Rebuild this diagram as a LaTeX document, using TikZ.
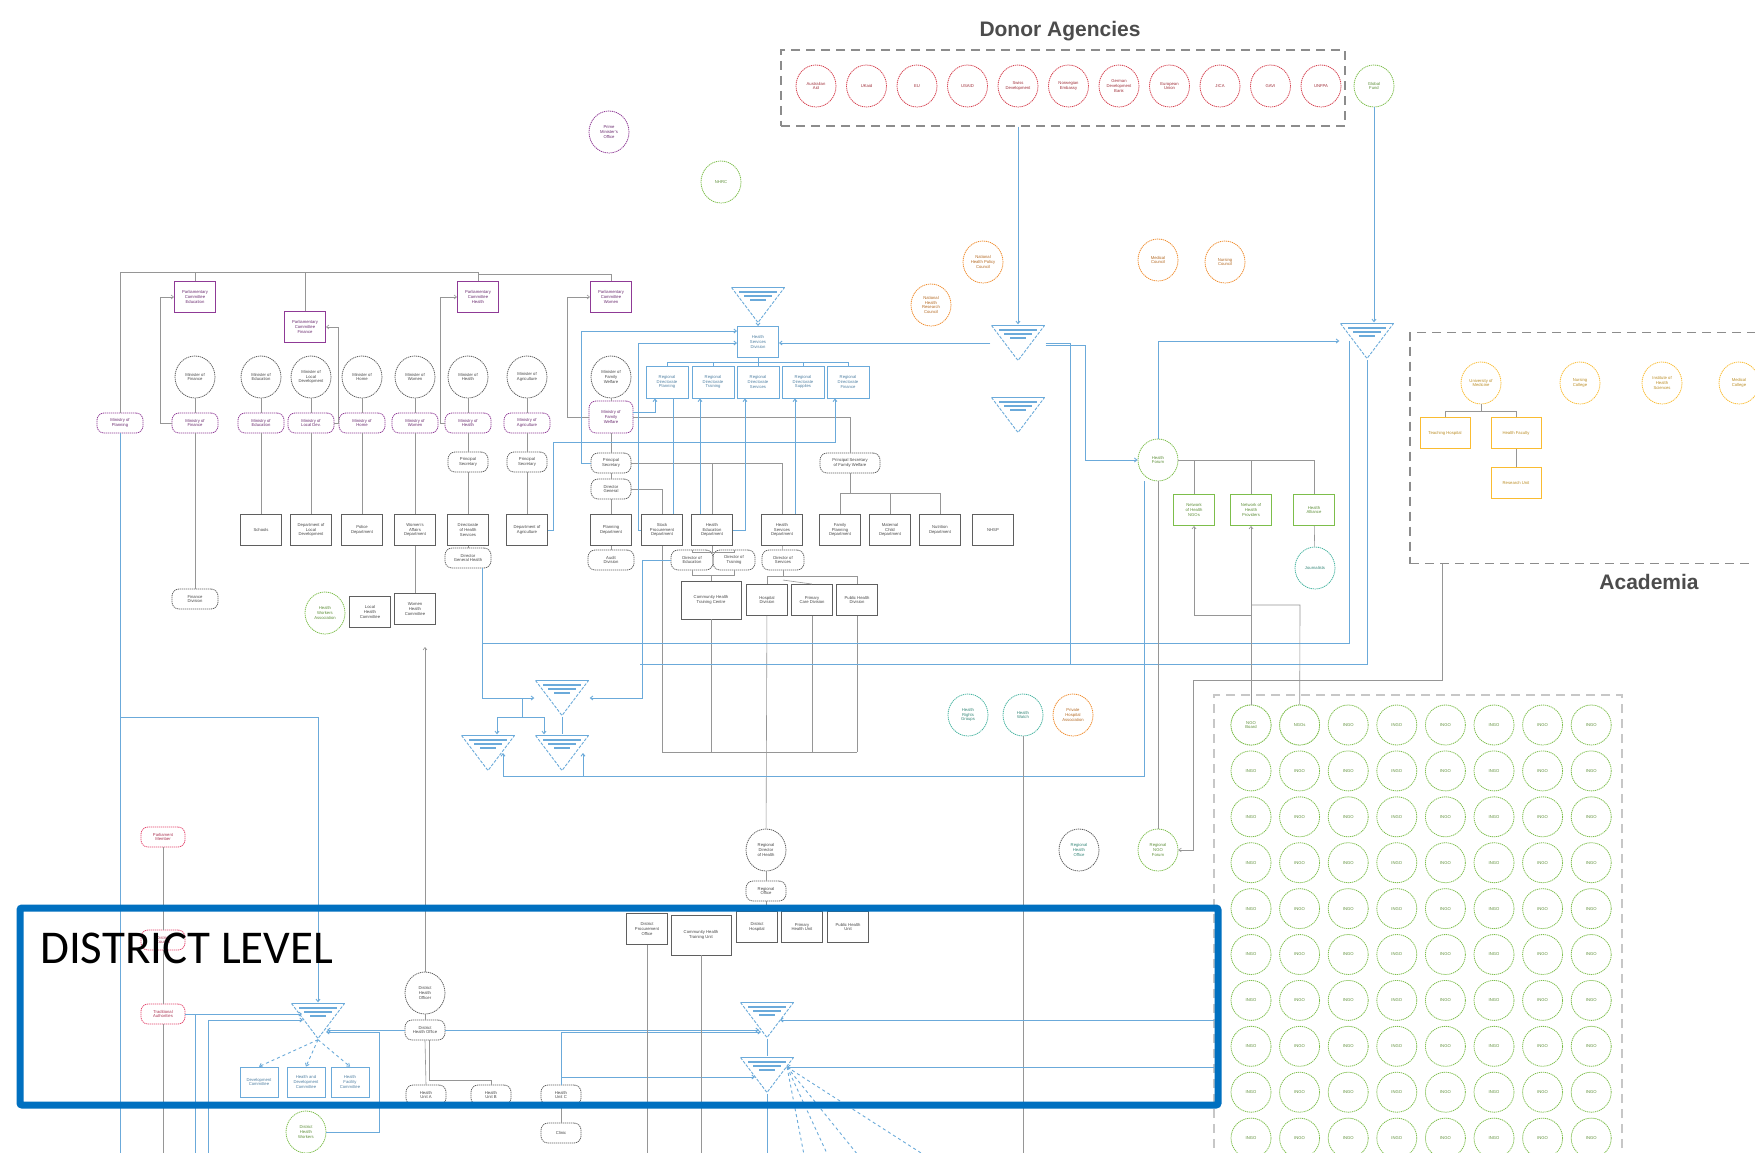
\documentclass[tikz,border=0pt]{standalone}
\usepackage{fontspec}
\setmainfont{Liberation Sans}
\newfontfamily\dlfont{Carlito}
\usetikzlibrary{positioning, arrows.meta, shapes.geometric}

\definecolor{lnblue}{RGB}{107,170,218}
\definecolor{dblue}{RGB}{0,112,192}
\definecolor{dred}{RGB}{214,64,78}
\definecolor{dpurple}{RGB}{143,58,150}
\definecolor{dgreen}{RGB}{125,190,75}
\definecolor{dorange}{RGB}{240,140,45}
\definecolor{dyellow}{RGB}{250,188,50}
\definecolor{dteal}{RGB}{70,180,160}
\definecolor{dpink}{RGB}{228,70,110}
\definecolor{lngray}{RGB}{150,150,150}
\definecolor{dgray}{RGB}{95,95,95}

\begin{document}
\begin{tikzpicture}[x=1pt,y=-1pt,>={Straight Barb[length=2.5pt,width=4pt]},
  lbl/.style={font=\fontsize{4.2}{4.8}\selectfont, align=center},
  dcirc/.style={ellipse, draw=#1, text=#1!75!black, dash pattern=on 1.2pt off 0.8pt,
        line width=0.8pt, minimum width=40pt, minimum height=42pt, inner sep=0pt, lbl},
  rnd/.style={rectangle, rounded corners=7pt, draw=#1, text=#1!75!black, dash pattern=on 1.2pt off 0.8pt,
        line width=0.8pt, minimum width=46pt, minimum height=20pt, inner sep=1pt, lbl},
  cbox/.style={rectangle, draw=#1, text=#1!75!black, line width=0.9pt, minimum width=41pt,
        minimum height=31pt, inner sep=1pt, lbl},
  grp/.style={draw=black!45, line width=1.3pt, dash pattern=on 9pt off 6pt, inner sep=0pt},
  heading/.style={font=\bfseries\fontsize{21}{21}\selectfont, text=black!70},
  funnel/.style={rectangle, minimum width=55pt, minimum height=37pt, inner sep=0pt,
    path picture={
      \draw[lnblue, line width=0.9pt, dash pattern=on 3pt off 1.5pt]
        ([shift={(1pt,-1pt)}]path picture bounding box.north west)
        -- ([yshift=1pt]path picture bounding box.south)
        -- ([shift={(-1pt,-1pt)}]path picture bounding box.north east);
      \draw[lnblue, line width=1pt]
        ([shift={(1pt,-1pt)}]path picture bounding box.north west)
        -- ([shift={(-1pt,-1pt)}]path picture bounding box.north east);
      \foreach \hw/\dd in {19/5,14/9,8/13}
        \draw[lnblue, line width=2pt]
          ([xshift=-\hw pt,yshift=-\dd pt]path picture bounding box.north)
          -- ([xshift=\hw pt,yshift=-\dd pt]path picture bounding box.north);
    }},
  bl/.style={draw=lnblue, line width=0.9pt},
  gl/.style={draw=lngray, line width=0.6pt}]

\useasboundingbox (0,0) rectangle (1755,1153);
\clip (0,0) rectangle (1755,1153);
\fill[white] (0,0) rectangle (1755,1153);

% donors
\node[heading] (donhead) at (1060,31) {Donor Agencies};
\node[grp, minimum width=564pt, minimum height=76pt] (donbox) at (1063,88) {};
\foreach \i/\t in {0/{Australian\\Aid},1/{UKaid},2/{EU},3/{USAID},4/{Swiss\\Development},
    5/{Norwegian\\Embassy},6/{German\\Development\\Bank},7/{European\\Union},8/{JICA},9/{GAVI},10/{UNFPA}}
  \node[dcirc=dred] (don\i) at (816+50.5*\i,86) {\t};
\node[dcirc=dgreen] (gfund) at (1374,86) {Global\\Fund};

\node[dcirc=dpurple] (pcirc) at (609,132) {Prime\\Minister's\\Office};
\node[dcirc=dgreen] (gcirc) at (721,182) {NHRC};
\node[dcirc=dorange] (o1) at (983,262) {National\\Health Policy\\Council};
\node[dcirc=dorange] (o2) at (931,305) {National\\Health\\Research\\Council};
\node[dcirc=dorange] (o3) at (1158,260) {Medical\\Council};
\node[dcirc=dorange] (o4) at (1225,262) {Nursing\\Council};

% funnels
\node[funnel] (F1) at (758,305) {};
\node[funnel] (F2) at (1018,343) {};
\node[funnel] (F3) at (1018,415) {};
\node[funnel] (F4) at (1367,341) {};
\node[funnel] (F5) at (562,698) {};
\node[funnel] (F6) at (488,753) {};
\node[funnel] (F7) at (562,753) {};
\node[funnel] (F8) at (318,1021) {};
\node[funnel] (F9) at (767,1020) {};
\node[funnel] (F10) at (767,1075) {};

% academia
\node[grp, minimum width=380pt, minimum height=231pt] (acabox) at (1600,448) {};
\node[heading] (acahead) at (1649,582) {Academia};
\node[dcirc=dyellow] (y1) at (1481,383) {University of\\Medicine};
\node[dcirc=dyellow] (y2) at (1580,383) {Nursing\\College};
\node[dcirc=dyellow] (y3) at (1662,383) {Institute of\\Health\\Sciences};
\node[dcirc=dyellow] (y4) at (1739,383) {Medical\\College};
\node[cbox=dyellow, minimum width=50pt] (ya) at (1445,433) {Teaching Hospital};
\node[cbox=dyellow, minimum width=50pt] (yb) at (1516,433) {Health Faculty};
\node[cbox=dyellow, minimum width=50pt] (yc) at (1516,483) {Research Unit};

% ngo grid
\node[grp, draw=black!22, line width=2pt, minimum width=408pt, minimum height=480pt] (ngobox) at (1418,935) {};
\foreach \r in {0,...,9}
  \foreach \c in {0,...,7}
    \node[dcirc=dgreen, minimum height=40pt] (ngo\r\c) at (1251+48.6*\c,725+45.9*\r) {INGO};
\node[dcirc=dgreen, minimum height=40pt, fill=white] at (ngo00) {NGO\\Board};
\node[dcirc=dgreen, minimum height=40pt, fill=white] at (ngo01) {NGOs};

% civil society
\node[dcirc=dgreen] (gov) at (1158,460) {Health\\Forum};
\node[cbox=dgreen] (gb1) at (1194,510) {Network\\of Health\\NGOs};
\node[cbox=dgreen] (gb2) at (1251,510) {Network of\\Health\\Providers};
\node[cbox=dgreen] (gb3) at (1314,510) {Health\\Alliance};
\node[dcirc=dteal] (tc) at (1315,568) {Journalists};
\node[dcirc=dteal] (m1) at (968,715) {Health\\Rights\\Groups};
\node[dcirc=dteal] (m2) at (1023,715) {Health\\Watch};
\node[dcirc=dorange] (m3) at (1073,715) {Private\\Hospital\\Association};
\node[dcirc=dgray] (rc) at (766,850) {Regional\\Director\\of Health};
\node[rnd=dgray, minimum width=40pt] (rr) at (766,891) {Regional\\Office};
\node[dcirc=dteal, draw=dgray] (rg) at (1079,850) {Regional\\Health\\Office};
\node[dcirc=dgreen] (gr2) at (1158,850) {Regional\\NGO\\Forum};

% ministries
\node[cbox=dpurple] (pc1) at (195,297) {Parliamentary\\Committee\\Education};
\node[cbox=dpurple] (pc2) at (305,327) {Parliamentary\\Committee\\Finance};
\node[cbox=dpurple] (pc3) at (478,297) {Parliamentary\\Committee\\Health};
\node[cbox=dpurple] (pc4) at (611,297) {Parliamentary\\Committee\\Women};
\foreach \i/\xx/\t in {1/195/{Minister of\\Finance},2/261/{Minister of\\Education},
    3/311/{Minister of\\Local\\Development},4/362/{Minister of\\Home},5/415/{Minister of\\Women},
    6/468/{Minister of\\Health},7/527/{Minister of\\Agriculture},8/611/{Minister of\\Family\\Welfare}}
  \node[dcirc=dgray] (mc\i) at (\xx,377) {\t};
\node[rnd=dpurple] (mn0) at (120,423) {Ministry of\\Planning};
\foreach \i/\xx/\t in {1/195/Finance,2/261/Education,3/311/Local Dev.,4/362/Home,
    5/415/Women,6/468/Health,7/527/Agriculture}
  \node[rnd=dpurple] (mn\i) at (\xx,423) {Ministry of\\\t};
\node[rnd=dpurple, minimum height=32pt, minimum width=44pt] (mn8) at (611,417) {Ministry of\\Family\\Welfare};

\node[rnd=dgray, minimum width=40pt] (sr6) at (468,462) {Principal\\Secretary};
\node[rnd=dgray, minimum width=40pt] (sr7) at (527,462) {Principal\\Secretary};
\node[rnd=dgray, minimum width=40pt] (sr8) at (611,463) {Principal\\Secretary};
\node[rnd=dgray, minimum width=40pt] (sr8b) at (611,489) {Director\\General};
\node[rnd=dgray, minimum width=60pt] (pr) at (850,463) {Principal Secretary\\of Family Welfare};

\foreach \n/\xx/\t in {2/261/{Schools},3/311/{Department of\\Local\\Development},4/362/{Police\\Department},
    5/415/{Women's\\Affairs\\Department},6/468/{Directorate\\of Health\\Services},7/527/{Department of\\Agriculture},
    8/611/{Planning\\Department},9/662/{Stock\\Procurement\\Department},10/712/{Health\\Education\\Department},
    11/782/{Health\\Services\\Department},12/840/{Family\\Planning\\Department},13/890/{Maternal\\Child\\Department},
    14/940/{Nutrition\\Department},15/993/{NHSP}}
  \node[cbox=dgray] (bx\n) at (\xx,530) {\t};

\node[rnd=dgray] (lr1) at (195,599) {Finance\\Division};
\node[rnd=dgray] (lr6) at (468,558) {Director\\General Health};
\node[rnd=dgray] (lr8) at (611,560) {Audit\\Division};
\node[rnd=dgray, minimum width=42pt] (lr10a) at (692,560) {Director of\\Education};
\node[rnd=dgray, minimum width=42pt] (lr10b) at (734,560) {Director of\\Training};
\node[rnd=dgray, minimum width=42pt] (lr11) at (783,560) {Director of\\Services};
\node[cbox=dgray, minimum width=60pt, minimum height=38pt] (w2a) at (711,600) {Community Health\\Training Centre};
\node[cbox=dgray] (w2b) at (767,600) {Hospital\\Division};
\node[cbox=dgray] (w2c) at (812,600) {Primary\\Care Division};
\node[cbox=dgray] (w2d) at (857,600) {Public Health\\Division};
\node[dcirc=dgreen] (gl) at (325,613) {Health\\Workers\\Association};
\node[cbox=dgray] (lb1) at (370,612) {Local\\Health\\Committee};
\node[cbox=dgray] (lb2) at (415,609) {Women\\Health\\Committee};

\node[cbox=lnblue] (tb) at (758,342) {Health\\Services\\Division};
\foreach \i/\xx/\t in {1/667/Planning,2/713/Training,3/758/Services,4/803/Supplies,5/848/Finance}
  \node[cbox=lnblue, minimum width=42pt, minimum height=32pt] (bb\i) at (\xx,382) {Regional\\Directorate\\\t};

% district
\node[rnd=dpink, minimum width=44pt] (p1) at (163,837) {Parliament\\Member};
\node[rnd=dpink, minimum width=44pt] (p2) at (163,940) {District\\Council};
\node[rnd=dpink, minimum width=44pt] (p3) at (163,1014) {Traditional\\Authorities};
\node[cbox=dgray] (d1) at (647,929) {District\\Procurement\\Office};
\node[cbox=dgray, minimum width=60pt, minimum height=40pt] (d2) at (701,935) {Community Health\\Training Unit};
\node[cbox=dgray] (d3) at (757,927) {District\\Hospital};
\node[cbox=dgray] (d4) at (802,927) {Primary\\Health Unit};
\node[cbox=dgray] (d5) at (848,927) {Public Health\\Unit};
\node[dcirc=dgray] (dc) at (425,993) {District\\Health\\Officer};
\node[rnd=dgray, minimum width=40pt] (dr) at (425,1030) {District\\Health Office};
\node[cbox=lnblue, minimum width=38pt, minimum height=30pt] (db1) at (259,1082) {Development\\Committee};
\node[cbox=lnblue, minimum width=38pt, minimum height=30pt] (db2) at (306,1082) {Health and\\Development\\Committee};
\node[cbox=lnblue, minimum width=38pt, minimum height=30pt] (db3) at (350,1082) {Health\\Facility\\Committee};
\node[rnd=dgray, minimum width=40pt] (dr1) at (426,1095) {Health\\Unit A};
\node[rnd=dgray, minimum width=40pt] (dr2) at (491,1095) {Health\\Unit B};
\node[rnd=dgray, minimum width=40pt] (dr3) at (561,1095) {Health\\Unit C};
\node[rnd=dgray, minimum width=40pt] (dr4) at (561,1133) {Clinic};
\node[dcirc=dgreen] (dg) at (306,1132) {District\\Health\\Workers};

% free ends and bends
\coordinate (busw) at (120,272);
\coordinate (bot0) at (120,1160);
\coordinate (h717) at (120,717);
\coordinate (bb5j) at (835,442);
\coordinate (h643) at (482,643);
\coordinate (h664) at (640,664);
\coordinate (j1070) at (1070,664);
\coordinate (h776) at (503,776);
\coordinate (h776b) at (583,776);
\coordinate (fj) at (522,717);
\coordinate (g605) at (1300,605);
\coordinate (g615) at (1251,615);
\coordinate (a680) at (1193,680);
\coordinate (a647) at (425,647);
\coordinate (v195) at (195,1014);
\coordinate (v208) at (208,1160);
\coordinate (f8in) at (303,1020);
\coordinate (g1020) at (1214,1020);
\coordinate (g1067) at (1214,1067);
\coordinate (d1077) at (561,1077);
\coordinate (botj) at (662,752);
\coordinate (prj) at (850,493);

% gray links, ministries
\draw[gl] (mn0) -- (busw) -- (busw -| pc3) -- (pc3);
\draw[gl] (busw -| pc1) -- (pc1);
\draw[gl] (busw -| pc2) -- (pc2);
\draw[gl] (busw -| pc3) -- ++(0,2) -| (pc4);
\draw[gl,->] (mn1.west) -- ++(-11,0) |- (pc1.west);
\draw[gl,->] (mn3.east) -- ++(4,0) |- (pc2.east);
\draw[gl,->] (mn6.west) -- ++(-4,0) |- (pc3.west);
\draw[gl,->] (mn8.west) -- ++(-21,0) |- (pc4.west);
\foreach \i in {1,...,8} \draw[gl] (mc\i) -- (mn\i);
\draw[gl] (mn1) -- (lr1);
\foreach \i in {2,3,4,5} \draw[gl] (mn\i) -- (bx\i);
\draw[gl] (bx5) -- (lb2);
\draw[gl] (mn6) -- (sr6) -- (bx6) -- (lr6);
\draw[gl] (mn7) -- (sr7) -- (bx7);
\draw[gl] (mn8) -- (sr8) -- (sr8b) -- (bx8) -- (lr8);
\draw[gl] (sr8.east) -- (sr8.east -| bx11) -- (bx11.north);
\draw[gl] (sr8.east -| bx10) -- (bx10.north);
\draw[gl] (sr8b.east) -| (bx9.north);
\draw[gl] (mn8.east) -| (pr.north);
\draw[gl] (pr) -- (prj);
\draw[gl] (prj -| bx12) -- (prj -| bx14);
\foreach \b in {bx12,bx13,bx14} \draw[gl] (prj -| \b) -- (\b.north);
\draw[gl] (bx10.south) -- ++(0,6) -| (lr10a.north);
\draw[gl] (bx10.south) -- ++(0,6) -| (lr10b.north);
\draw[gl] (lr10a.south) -- ++(0,5) -| (w2a.north);
\draw[gl] (lr10b.south) -- ++(0,5) -| (w2a.north);
\draw[gl] (bx11) -- (lr11);
\draw[gl] (lr11.south) -- ++(0,6) -| (w2b.north);
\draw[gl] (lr11.south) -- ++(0,6) -| (w2d.north);
\draw[gl] (lr11.south |- w2c.north) ++(0,-4) -- (w2c.north);
\draw[gl] (bx9.south) -- (botj) -- (botj -| w2d);
\foreach \b in {w2a,w2c,w2d} \draw[gl] (\b.south) -- (botj -| \b);
\draw[gl] (w2b) -- (rc);
\draw[gl] (rc) -- (rr);
\draw[gl] (rr.south) -- (rr.south |- d3.north);

% blue links, centre
\draw[bl,->] (F1) -- (tb);
\draw[bl] (tb.south) -- ++(0,4) -| (bb1.north);
\draw[bl] (tb.south) -- ++(0,4) -| (bb5.north);
\foreach \b in {bb2,bb3,bb4} \draw[bl] (tb.south |- 0,362) -| (\b.north);
\draw[bl,->] (sr8.west) -- ++(-9,0) |- ([yshift=11pt]tb.west);
\draw[bl,->] (bx9.west) -- ++(-3,0) |- ([yshift=-1pt]tb.west);
\draw[bl,->] ([yshift=5pt]mn8.east) -| ([xshift=-12pt]bb1.south);
\draw[bl] ([xshift=6pt]bb1.south) -- ([xshift=6pt]bb1.south |- bx9.north);
\draw[bl,->] ([xshift=-13pt]bb2.south |- bx10.north) -- ([xshift=-13pt]bb2.south);
\draw[bl,->] (bx10.east) -| ([xshift=-13pt]bb3.south);
\draw[bl,->] ([xshift=-8pt]bb4.south |- bx11.north) -- ([xshift=-8pt]bb4.south);
\draw[bl,->] (bx7.east) -- ++(5,0) |- (bb5j) -- (bb5j |- bb5.south);
\draw[bl,->] ([xshift=14pt]lr6.south) |- (F5.west);
\draw[bl] (h643) -| ([xshift=-18pt]F4.center);
\draw[bl,->] (lr10a.west) -- ++(-28,0) |- (F5.east);
\draw[bl] (h664) -| (F4.south);
\draw[bl] (F2.east) -| (j1070);
\draw[bl,->] ([yshift=-2pt]F2.east) -- ++(40,0) |- (gov.west);
\draw[bl,->] (F2.west) -- (F2.west -| tb.east);
\draw[bl,->] (donbox.south -| F2) -- (F2.north);
\draw[bl,->] (gfund.south) -- (gfund.south |- F4.north);
\draw[bl,->] (gov.north) |- (F4.west);
\draw[bl] ([xshift=-14pt]gov.south) |- (h776);
\draw[bl,->] (h776) -- (h776 |- F6.center);
\draw[bl,->] (h776b) -- (h776b |- F7.center);
\draw[bl] (fj |- F5.west) -- (fj);
\draw[bl,->] (fj) -| ([xshift=9pt]F6.north);
\draw[bl,->] (fj) -| ([xshift=-18pt]F7.north);
\draw[bl] (F5.south) -- (F7.north);
\draw[bl] (mn0) -- (bot0);
\draw[bl,->] (h717) -| (F8.north);

% civil society and academia
\draw[gl] (gov.east) -| (gb3.north);
\draw[gl] (gov.east -| gb1) -- (gb1.north);
\draw[gl] (gov.east -| gb2) -- (gb2.north);
\draw[gl] (gb3) -- (tc);
\draw[gl] (gov) -- (gr2);
\draw[gl,->] (ngo00) -- (gb2);
\draw[gl] (ngo01) -- (g605) -- (g605 -| gb2);
\draw[gl,->] (g615) -| (gb1.south);
\draw[gl,->] ([xshift=-158pt]acabox.south) |- (a680) |- (gr2.east);
\draw[gl] (y1.south) -- ++(0,7) -| (ya.north);
\draw[gl] (y1.south) -- ++(0,7) -| (yb.north);
\draw[gl] (yb) -- (yc);
\draw[gl] (m2) -- (m2 |- bot0);

% district links
\draw[gl,->] (dc) -- (a647);
\draw[gl] (dc) -- (dr);
\draw[bl,->] (dr.west) -- ([xshift=9pt]F8.center |- dr.west);
\draw[bl,->] (dr.east) -- ([xshift=-8pt]F9.center |- dr.east);
\draw[bl,->] (p3.east) -- ([xshift=-16pt]F8.center |- p3.east);
\draw[bl] (v195) -- (v195 |- bot0);
\draw[bl,->] (v208) |- (f8in);
\draw[bl,->] (dg.east) -| ([xshift=61pt,yshift=-11pt]F8.center) -- ([xshift=8pt,yshift=-11pt]F8.center);
\foreach \b in {db1,db2,db3} \draw[bl,dashed,->] (F8.south) -- (\b.north);
\draw[gl] (p1) -- (p2);
\draw[gl] (p2) -- (p3);
\draw[gl] (p3) -- (p3 |- bot0);
\draw[bl] (F9.south) -- (F10.north);
\draw[bl] (F10.south) -- (F10 |- bot0);
\draw[bl,->] (g1020) -- ([xshift=13pt]F9.center |- g1020);
\draw[bl,->] (g1067) -- ([xshift=20pt]F10.center |- g1067);
\draw[bl,->] (dr3.north) |- ([xshift=-6pt,yshift=-12pt]F9.center);
\draw[bl,->] (d1077) -- ([xshift=-12pt]F10.center |- d1077);
\draw[gl] (dr.south) -- (dr1.north);
\draw[gl] ([xshift=4pt]dr.south) -- ++(0,40) -| (dr2.north);
\draw[gl] (dr3) -- (dr4);
\foreach \xx in {805,830,862,932}
  \draw[bl,dashed] ([xshift=20pt,yshift=8pt]F10.center) -- (\xx,1160);
\draw[gl] (d1) -- (d1 |- bot0);
\draw[gl] (d2) -- (d2 |- bot0);

% district frame
\node[draw=dblue, line width=7pt, rounded corners=2pt, minimum width=1198pt, minimum height=197pt] (distbox) at (619,1006.5) {};
\node[anchor=west, font=\dlfont\fontsize{47}{47}\selectfont, inner sep=0pt] (distlbl) at (40,948) {DISTRICT LEVEL};
\end{tikzpicture}
\end{document}
